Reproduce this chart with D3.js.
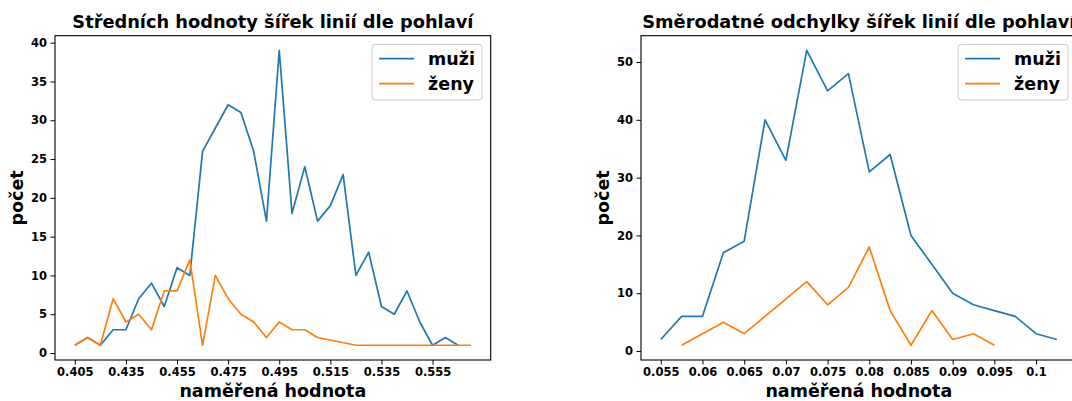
<!DOCTYPE html>
<html>
<head>
<meta charset="utf-8">
<script src="https://cdn.jsdelivr.net/npm/d3@7"></script>
<style>
  html, body { margin: 0; padding: 0; background: #fff; }
  svg { display: block; }
  text { font-family: "DejaVu Sans", sans-serif; font-weight: bold; fill: #000; }
</style>
</head>
<body>
<svg id="chart" width="1072" height="401"></svg>
<script>
// ---------- data ----------
const seriesNames = ["muži", "ženy"];
const colors = ["#1f77b4", "#ff7f0e"];

// Left panel: Středních hodnoty
const leftMuziX = [0.415,0.42,0.425,0.43,0.435,0.44,0.445,0.45,0.455,0.46,0.465,0.47,0.475,0.48,0.485,0.49,0.495,0.5,0.505,0.51,0.515,0.52,0.525,0.53,0.535,0.54,0.545,0.55,0.555,0.56,0.565];
const leftMuzi  = [1,2,1,3,3,7,9,6,11,10,26,29,32,31,26,17,39,18,24,17,19,23,10,13,6,5,8,4,1,2,1];
const leftZenyX = [0.415,0.42,0.425,0.43,0.435,0.44,0.445,0.45,0.455,0.46,0.465,0.47,0.475,0.48,0.485,0.49,0.495,0.5,0.505,0.51,0.525,0.53,0.535,0.54,0.545,0.55,0.555,0.56,0.565,0.57];
const leftZeny  = [1,2,1,7,4,5,3,8,8,12,1,10,7,5,4,2,4,3,3,2,1,1,1,1,1,1,1,1,1,1];
const leftTickValues = [0.415,0.435,0.455,0.475,0.495,0.515,0.535,0.555];
const leftTickLabels = ["0.405","0.435","0.455","0.475","0.495","0.515","0.535","0.555"];
const leftYTicks = [0,5,10,15,20,25,30,35,40];

// Right panel: Směrodatné odchylky
const rightMuziX = [0.055,0.0575,0.06,0.0625,0.065,0.0675,0.07,0.0725,0.075,0.0775,0.08,0.0825,0.085,0.0875,0.09,0.0925,0.095,0.0975,0.1,0.1025];
const rightMuzi  = [2,6,6,17,19,40,33,52,45,48,31,34,20,15,10,8,7,6,3,2];
const rightZenyX = [0.0575,0.0625,0.065,0.0725,0.075,0.0775,0.08,0.0825,0.085,0.0875,0.09,0.0925,0.095];
const rightZeny  = [1,5,3,12,8,11,18,7,1,7,2,3,1];
const rightTickValues = [0.055,0.06,0.065,0.07,0.075,0.08,0.085,0.09,0.095,0.1];
const rightTickLabels = ["0.055","0.06","0.065","0.07","0.075","0.08","0.085","0.09","0.095","0.1"];
const rightYTicks = [0,10,20,30,40,50];

const titles = ["Středních hodnoty šířek linií dle pohlaví", "Směrodatné odchylky šířek linií dle pohlaví"];
const xLabel = "naměřená hodnota";
const yLabel = "počet";

// ---------- drawing ----------
const svg = d3.select("#chart");

function padDomain(vals) {
  const [lo, hi] = d3.extent(vals);
  const m = (hi - lo) * 0.05;
  return [lo - m, hi + m];
}

function panel(opts) {
  const { left, right, top, bottom, xs, ys, tickValues, tickLabels, yTicks, title } = opts;
  const g = svg.append("g");
  const x = d3.scaleLinear().domain(padDomain(xs.flat())).range([left, right]);
  const y = d3.scaleLinear().domain(padDomain(ys.flat())).range([bottom, top]);

  // lines
  const line = d3.line().x(d => x(d[0])).y(d => y(d[1]));
  xs.forEach((xv, i) => {
    const pts = xv.map((v, j) => [v, ys[i][j]]);
    g.append("path").datum(pts)
      .attr("d", line)
      .attr("fill", "none")
      .attr("stroke", colors[i])
      .attr("stroke-width", 1.7)
      .attr("stroke-linejoin", "round");
  });

  // x axis
  const xAxis = d3.axisBottom(x).tickValues(tickValues)
    .tickFormat((d, i) => tickLabels[i]).tickSize(4.5).tickPadding(3.5);
  const gx = g.append("g").attr("transform", `translate(0,${bottom})`).call(xAxis);
  gx.select(".domain").remove();
  gx.selectAll("line").attr("stroke", "#000").attr("stroke-width", 1);
  gx.selectAll("text").style("font-size", "11.5px").style("font-family", "DejaVu Sans").style("font-weight", "bold").attr("fill", "#000");

  // y axis
  const yAxis = d3.axisLeft(y).tickValues(yTicks).tickSize(4.5).tickPadding(3.5);
  const gy = g.append("g").attr("transform", `translate(${left},0)`).call(yAxis);
  gy.select(".domain").remove();
  gy.selectAll("line").attr("stroke", "#000").attr("stroke-width", 1);
  gy.selectAll("text").style("font-size", "11.5px").style("font-family", "DejaVu Sans").style("font-weight", "bold").attr("fill", "#000");

  // frame
  g.append("rect").attr("x", left).attr("y", top)
    .attr("width", right - left).attr("height", bottom - top)
    .attr("fill", "none").attr("stroke", "#000").attr("stroke-width", 1.1);

  // title
  g.append("text").attr("x", (left + right) / 2).attr("y", top - 7.5)
    .attr("text-anchor", "middle").style("font-size", "17.8px").text(title);

  // x label
  g.append("text").attr("x", (left + right) / 2).attr("y", 397)
    .attr("text-anchor", "middle").style("font-size", "17.5px").text(xLabel);

  // y label
  g.append("text")
    .attr("transform", `translate(${left - 32},${(top + bottom) / 2}) rotate(-90)`)
    .attr("text-anchor", "middle").style("font-size", "17.5px").text(yLabel);

  // legend
  const lg = g.append("g");
  const lRight = right - 8.7, lTop = top + 8.7;
  const fs = 17.5;
  const texts = seriesNames.map((n, i) => lg.append("text")
    .attr("y", lTop + 14.3 + i * 25 + 6).style("font-size", fs + "px").text(n));
  const tw = d3.max(texts, t => t.node().getComputedTextLength());
  const boxW = 7 + 35 + 14 + tw + 7;
  const boxH = 55.5;
  const lLeft = lRight - boxW;
  lg.insert("rect", ":first-child")
    .attr("x", lLeft).attr("y", lTop).attr("width", boxW).attr("height", boxH)
    .attr("rx", 3).attr("ry", 3)
    .attr("fill", "#fff").attr("fill-opacity", 0.8)
    .attr("stroke", "#cccccc").attr("stroke-width", 1);
  seriesNames.forEach((n, i) => {
    const ly = lTop + 14.3 + i * 25;
    lg.append("line").attr("x1", lLeft + 7).attr("x2", lLeft + 42)
      .attr("y1", ly).attr("y2", ly)
      .attr("stroke", colors[i]).attr("stroke-width", 1.7);
    texts[i].attr("x", lLeft + 56);
  });
}

panel({
  left: 55, right: 490.7, top: 35.7, bottom: 360,
  xs: [leftMuziX, leftZenyX], ys: [leftMuzi, leftZeny],
  tickValues: leftTickValues, tickLabels: leftTickLabels, yTicks: leftYTicks,
  title: titles[0]
});
panel({
  left: 641, right: 1076.7, top: 35.7, bottom: 360,
  xs: [rightMuziX, rightZenyX], ys: [rightMuzi, rightZeny],
  tickValues: rightTickValues, tickLabels: rightTickLabels, yTicks: rightYTicks,
  title: titles[1]
});
</script>
</body>
</html>
